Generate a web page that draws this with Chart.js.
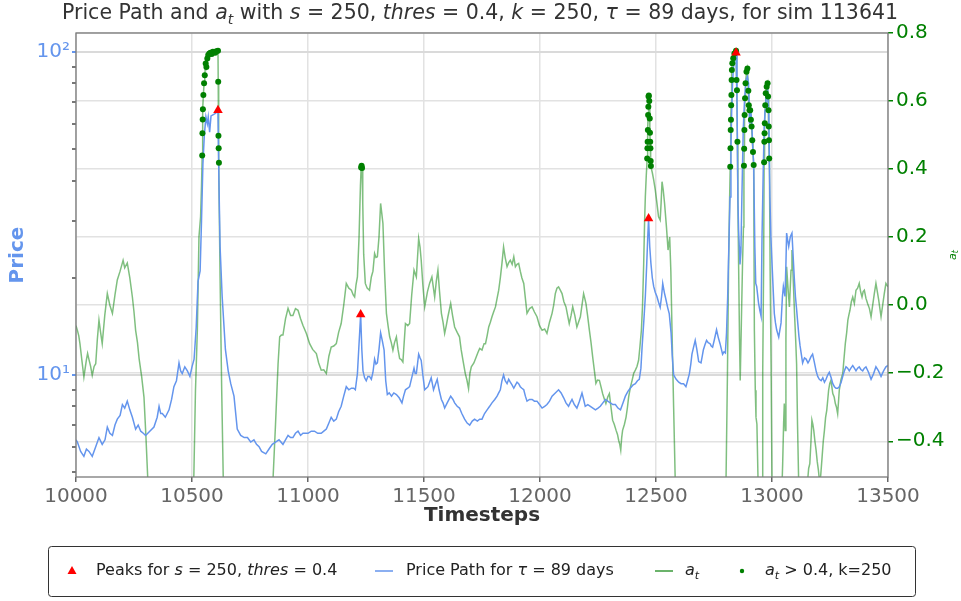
<!DOCTYPE html>
<html>
<head>
<meta charset="utf-8">
<script src="https://cdn.jsdelivr.net/npm/chart.js@4.4.1/dist/chart.umd.min.js"></script>
<style>
  html, body { margin: 0; padding: 0; background: #fff; }
  #wrap { width: 961px; height: 601px; }
</style>
</head>
<body>
<div id="wrap"><canvas id="grafico" width="961" height="601"></canvas></div>
<script>
const ctx = document.querySelector("#grafico");

// price path (timestep, price)
const priceT = [
  10000, 10006, 10020, 10034, 10045, 10056, 10070, 10085, 10099, 10113, 10125, 10135, 10146, 10157, 10168, 10178,
  10190, 10200, 10210, 10221, 10232, 10243, 10257, 10268, 10279, 10290, 10300, 10318, 10336, 10350, 10358, 10365,
  10372, 10385, 10401, 10412, 10422, 10433, 10444, 10451, 10458, 10469, 10480, 10491, 10500, 10509, 10518, 10526,
  10535, 10541, 10547, 10553, 10560, 10566, 10570, 10576, 10582, 10592, 10602, 10612, 10616, 10621, 10630, 10644,
  10656, 10667, 10681, 10695, 10710, 10725, 10739, 10753, 10767, 10778, 10789, 10800, 10818, 10832, 10846, 10860,
  10875, 10892, 10903, 10914, 10925, 10935, 10946, 10957, 10968, 10978, 10990, 11000, 11014, 11028, 11042, 11057,
  11068, 11079, 11090, 11100, 11111, 11122, 11132, 11143, 11154, 11165, 11176, 11187, 11197, 11204, 11213, 11220,
  11227, 11232, 11237, 11244, 11251, 11258, 11265, 11273, 11280, 11287, 11293, 11299, 11306, 11313, 11320, 11328,
  11335, 11342, 11350, 11360, 11370, 11381, 11393, 11405, 11412, 11420, 11430, 11438, 11447, 11457, 11462, 11467,
  11477, 11483, 11488, 11495, 11503, 11510, 11517, 11524, 11531, 11536, 11541, 11550, 11557, 11565, 11575, 11582,
  11589, 11600, 11615, 11625, 11632, 11643, 11653, 11663, 11675, 11686, 11697, 11708, 11718, 11730, 11740, 11750,
  11761, 11772, 11783, 11793, 11805, 11815, 11822, 11829, 11836, 11843, 11850, 11858, 11865, 11872, 11880, 11887,
  11894, 11901, 11908, 11915, 11922, 11930, 11937, 11944, 11955, 11966, 11976, 11987, 11998, 12009, 12020, 12030,
  12041, 12052, 12066, 12080, 12091, 12102, 12112, 12123, 12130, 12138, 12148, 12159, 12170, 12181, 12188, 12195,
  12206, 12217, 12228, 12239, 12250, 12260, 12271, 12282, 12292, 12303, 12314, 12325, 12336, 12347, 12358, 12368,
  12379, 12389, 12400, 12411, 12420, 12428, 12435, 12440, 12447, 12454, 12460, 12464, 12468, 12473, 12478, 12484,
  12490, 12497, 12504, 12511, 12518, 12524, 12529, 12536, 12543, 12550, 12557, 12565, 12570, 12576, 12587, 12598,
  12608, 12619, 12629, 12636, 12644, 12650, 12655, 12662, 12669, 12676, 12684, 12694, 12699, 12704, 12711, 12718,
  12725, 12733, 12738, 12744, 12752, 12761, 12768, 12776, 12782, 12787, 12793, 12799, 12804, 12809, 12814, 12819,
  12823, 12826, 12830, 12833, 12838, 12845, 12849, 12853, 12856, 12859, 12862, 12866, 12870, 12876, 12882, 12888,
  12894, 12899, 12903, 12906, 12912, 12917, 12921, 12926, 12930, 12934, 12942, 12948, 12953, 12957, 12962, 12966,
  12970, 12974, 12981, 12986, 12991, 12995, 13000, 13005, 13010, 13015, 13020, 13029, 13039, 13045, 13049, 13056,
  13060, 13063, 13068, 13072, 13079, 13086, 13092, 13096, 13101, 13106, 13111, 13116, 13121, 13132, 13140, 13147,
  13155, 13161, 13168, 13175, 13182, 13190, 13197, 13204, 13212, 13219, 13226, 13233, 13240, 13247, 13255, 13262,
  13269, 13276, 13283, 13290, 13298, 13305, 13312, 13319, 13326, 13333, 13340, 13348, 13355, 13362, 13369, 13376,
  13383, 13391, 13398, 13405, 13416, 13427, 13438, 13448, 13459, 13470, 13481, 13491, 13500
];
const priceV = [
  6.3, 6.2, 5.8, 5.6, 5.9, 5.8, 5.6, 6.0, 6.4, 6.1, 6.3, 6.9, 6.6, 6.5, 7.0, 7.3,
  7.5, 8.1, 7.9, 8.3, 7.8, 7.4, 6.8, 7.0, 6.7, 6.6, 6.5, 6.7, 6.9, 7.4, 8.0, 7.6,
  7.6, 7.4, 7.8, 8.4, 9.2, 9.6, 10.9, 10.3, 10.1, 10.6, 10.3, 9.9, 10.6, 11.2, 14, 19.5,
  21, 30, 45, 55, 63, 60, 63, 56.5, 63.4, 64, 64.6, 66, 40, 25, 17.5, 12,
  10.3, 9.4, 8.6, 6.8, 6.5, 6.4, 6.4, 6.2, 6.3, 6.1, 6.0, 5.8, 5.7, 5.9, 6.1, 6.2,
  6.3, 6.1, 6.3, 6.5, 6.4, 6.4, 6.6, 6.7, 6.5, 6.6, 6.6, 6.6, 6.7, 6.7, 6.6, 6.6,
  6.7, 6.8, 7.1, 7.4, 7.2, 7.3, 7.7, 8.0, 8.6, 9.2, 9.0, 9.1, 9.1, 9.0, 10.1, 12.5,
  15.4, 12.0, 10.3, 9.8, 9.6, 9.9, 9.9, 9.7, 10.2, 11.2, 10.8, 10.9, 12.0, 13.5, 12.8, 11.95,
  9.6, 8.7, 8.8, 8.6, 8.8, 8.7, 8.5, 8.2, 8.6, 9.0, 9.1, 9.2, 9.8, 10.5, 10.1, 10.1,
  11.6, 11.3, 11.1, 10.0, 9.0, 9.1, 9.2, 9.5, 9.8, 9.4, 9.0, 9.4, 9.7, 9.0, 8.4, 8.2,
  7.9, 8.2, 8.6, 8.4, 8.2, 8.0, 7.9, 7.6, 7.3, 7.1, 7.0, 7.2, 7.3, 7.2, 7.3, 7.3,
  7.6, 7.8, 8.0, 8.2, 8.4, 8.6, 8.8, 9.0, 9.6, 10.0, 9.6, 9.4, 9.7, 9.5, 9.3, 9.1,
  9.3, 9.5, 9.4, 9.2, 9.1, 9.0, 8.6, 8.3, 8.4, 8.4, 8.3, 8.3, 8.1, 7.9, 8.0, 8.1,
  8.3, 8.6, 8.8, 9.0, 8.8, 8.5, 8.2, 8.0, 8.2, 8.4, 8.1, 7.9, 8.3, 8.8, 8.4, 8.0,
  8.1, 8.0, 7.9, 7.8, 7.9, 8.0, 8.2, 8.4, 8.3, 8.2, 8.1, 8.1, 7.9, 7.8, 8.2, 8.6,
  8.9, 9.1, 9.3, 9.4, 9.6, 9.7, 10.5, 12.2, 14.5, 17.5, 22, 26.2, 30.5, 25, 22.2, 20,
  18.8, 18.0, 17.5, 16.8, 16.2, 17.5, 19.2, 18.0, 17.1, 16.2, 15.5, 13.5, 11.5, 10.0, 9.7, 9.5,
  9.4, 9.4, 9.2, 9.6, 10.1, 10.8, 11.6, 12.2, 12.8, 12.0, 11.0, 10.9, 11.4, 11.95, 12.4, 12.8,
  12.6, 12.5, 12.3, 12.2, 12.9, 13.8, 13.1, 12.5, 12.0, 11.6, 11.8, 11.7, 13.5, 17.5, 25, 35.6,
  50, 64.6, 80, 88, 95, 99.5, 72.7, 35, 28.1, 25, 22, 24, 35, 57.3, 72, 82,
  84, 80, 60, 68, 62, 50.9, 45, 25, 19.2, 18.8, 16.7, 15.8, 15.2, 26.8, 42, 57.3,
  66, 72.7, 76.3, 64.6, 35.6, 27, 22.2, 18.5, 15.5, 14.5, 13.8, 13.1, 14.5, 17.5, 18.8, 17.5,
  22, 27.5, 26, 25.0, 26.8, 27.5, 22.7, 20, 17.5, 16, 14.5, 13.2, 12.3, 10.9, 11.3, 11.2,
  10.9, 11.1, 11.4, 11.6, 11.0, 10.3, 9.9, 9.7, 9.6, 9.8, 9.5, 9.7, 10.0, 10.2, 9.8, 9.4,
  9.2, 9.1, 9.1, 9.2, 9.5, 9.9, 10.3, 10.6, 10.5, 10.3, 10.5, 10.7, 10.5, 10.3, 10.5, 10.6,
  10.4, 10.3, 10.5, 10.6, 10.2, 9.7, 10.1, 10.6, 10.3, 9.9, 10.3, 10.6, 10.7
];

// a_t (timestep, value), values under the axis floor run off the bottom
const atT = [
  10000, 10006, 10012, 10017, 10025, 10034, 10045, 10050, 10056, 10063, 10070, 10078, 10085, 10092, 10099, 10106,
  10113, 10124, 10135, 10146, 10157, 10168, 10178, 10190, 10203, 10210, 10221, 10232, 10243, 10250, 10257, 10265,
  10272, 10283, 10293, 10301, 10310, 10400, 10500, 10508, 10515, 10523, 10530, 10537, 10541, 10544, 10545, 10546,
  10547, 10549, 10552, 10555, 10559, 10562, 10566, 10570, 10575, 10580, 10585, 10590, 10595, 10600, 10605, 10612,
  10613, 10614, 10615, 10616, 10621, 10628, 10635, 10700, 10800, 10845, 10850, 10860, 10871, 10878, 10885, 10892,
  10903, 10914, 10925, 10935, 10946, 10957, 10968, 10978, 10993, 11007, 11020, 11036, 11046, 11057, 11068, 11079,
  11090, 11100, 11111, 11122, 11132, 11143, 11154, 11165, 11176, 11187, 11195, 11201, 11207, 11213, 11220, 11226,
  11229, 11231, 11233, 11236, 11240, 11247, 11255, 11265, 11273, 11280, 11287, 11293, 11299, 11306, 11313, 11318,
  11323, 11330, 11338, 11345, 11352, 11359, 11366, 11373, 11381, 11388, 11395, 11402, 11409, 11420, 11430, 11438,
  11447, 11457, 11467, 11477, 11483, 11488, 11495, 11503, 11515, 11524, 11534, 11546, 11553, 11560, 11567, 11575,
  11582, 11589, 11596, 11603, 11615, 11623, 11632, 11643, 11653, 11660, 11668, 11678, 11685, 11692, 11698, 11704,
  11715, 11725, 11732, 11740, 11750, 11759, 11765, 11772, 11779, 11786, 11793, 11800, 11808, 11815, 11822, 11829,
  11836, 11843, 11850, 11858, 11865, 11872, 11880, 11887, 11894, 11901, 11908, 11915, 11922, 11930, 11937, 11944,
  11955, 11966, 11976, 11987, 11998, 12009, 12020, 12030, 12041, 12052, 12059, 12066, 12073, 12080, 12087, 12095,
  12103, 12112, 12119, 12126, 12134, 12141, 12150, 12159, 12166, 12174, 12181, 12188, 12193, 12198, 12205, 12213,
  12220, 12227, 12234, 12241, 12248, 12256, 12263, 12270, 12277, 12284, 12292, 12299, 12306, 12313, 12320, 12328,
  12334, 12339, 12344, 12348, 12352, 12356, 12364, 12371, 12377, 12382, 12390, 12397, 12404, 12411, 12418, 12425,
  12431, 12437, 12442, 12447, 12451, 12454, 12458, 12462, 12463, 12464, 12465, 12466, 12467, 12468, 12469, 12471,
  12473, 12474, 12475, 12476, 12477, 12478, 12484, 12490, 12497, 12504, 12511, 12518, 12522, 12526, 12531, 12537,
  12545, 12552, 12559, 12564, 12569, 12576, 12583, 12650, 12760, 12800, 12802, 12808, 12813, 12817, 12820, 12821,
  12822, 12823, 12824, 12825, 12826, 12827, 12829, 12833, 12838, 12845, 12847, 12849, 12851, 12853, 12856, 12860,
  12863, 12868, 12873, 12877, 12879, 12880, 12881, 12882, 12884, 12886, 12890, 12894, 12898, 12900, 12903, 12906,
  12909, 12912, 12915, 12918, 12921, 12924, 12928, 12931, 12935, 12940, 12950, 12957, 12960, 12964, 12966, 12967,
  12968, 12969, 12971, 12973, 12977, 12981, 12983, 12985, 12986, 12987, 12988, 12989, 12992, 12996, 13000, 13020,
  13040, 13046, 13050, 13053, 13057, 13060, 13063, 13069, 13075, 13082, 13086, 13090, 13097, 13102, 13106, 13110,
  13115, 13135, 13153, 13158, 13163, 13168, 13172, 13176, 13180, 13185, 13190, 13195, 13200, 13205, 13210, 13216,
  13221, 13226, 13231, 13236, 13240, 13244, 13249, 13254, 13258, 13262, 13268, 13273, 13278, 13283, 13287, 13290,
  13297, 13305, 13310, 13316, 13322, 13327, 13331, 13336, 13342, 13348, 13355, 13362, 13369, 13376, 13382, 13388,
  13393, 13398, 13405, 13412, 13420, 13427, 13434, 13441, 13448, 13454, 13460, 13465, 13470, 13477, 13484, 13491,
  13500
];
const atV = [
  -0.06, -0.074, -0.09, -0.113, -0.16, -0.211, -0.16, -0.142, -0.16, -0.18, -0.206, -0.18, -0.172, -0.1, -0.044, -0.08,
  -0.113, -0.03, 0.034, 0.0, -0.024, 0.03, 0.074, 0.1, 0.132, 0.11, 0.124, 0.08, 0.024, -0.02, -0.074, -0.11,
  -0.157, -0.21, -0.27, -0.38, -0.52, -1.6, -0.56, -0.5, -0.25, -0.074, 0.2, 0.26, 0.35, 0.44, 0.505, 0.546,
  0.576, 0.618, 0.652, 0.676, 0.71, 0.7, 0.725, 0.735, 0.74, 0.742, 0.738, 0.745, 0.744, 0.742, 0.746, 0.748,
  0.657, 0.498, 0.461, 0.419, 0.083, -0.25, -0.52, -1.5, -1.4, -0.6, -0.5, -0.35, -0.172, -0.093, -0.088, -0.088,
  -0.04, -0.009, -0.03, -0.03, -0.01, -0.015, -0.04, -0.059, -0.083, -0.113, -0.13, -0.142, -0.17, -0.191, -0.19, -0.201,
  -0.15, -0.123, -0.12, -0.113, -0.08, -0.054, 0.0, 0.064, 0.05, 0.044, 0.03, 0.024, 0.06, 0.083, 0.2, 0.35,
  0.405, 0.41, 0.403, 0.3, 0.15, 0.064, 0.05, 0.044, 0.083, 0.1, 0.152, 0.14, 0.142, 0.2, 0.299, 0.27,
  0.24, 0.1, -0.024, -0.06, -0.093, -0.11, -0.132, -0.11, -0.093, -0.13, -0.157, -0.16, -0.167, -0.054, -0.06, -0.054,
  0.03, 0.103, 0.083, 0.196, 0.17, 0.132, 0.06, -0.005, 0.04, 0.064, 0.083, 0.024, 0.07, 0.103, 0.04, -0.024,
  -0.05, -0.083, -0.06, -0.034, 0.005, -0.03, -0.064, -0.08, -0.093, -0.13, -0.162, -0.201, -0.22, -0.245, -0.2, -0.181,
  -0.17, -0.152, -0.14, -0.127, -0.132, -0.113, -0.113, -0.09, -0.064, -0.05, -0.034, -0.02, -0.005, 0.02, 0.044, 0.08,
  0.123, 0.171, 0.14, 0.113, 0.125, 0.132, 0.12, 0.142, 0.113, 0.12, 0.123, 0.1, 0.08, 0.064, 0.02, -0.024,
  -0.01, -0.005, -0.02, -0.034, -0.06, -0.074, -0.07, -0.083, -0.05, -0.024, 0.0, 0.034, 0.05, 0.054, 0.045, 0.034,
  0.01, -0.005, -0.03, -0.054, -0.03, -0.005, -0.03, -0.064, -0.05, -0.034, 0.0, 0.034, 0.02, 0.005, -0.03, -0.074,
  -0.11, -0.152, -0.19, -0.23, -0.22, -0.221, -0.24, -0.26, -0.275, -0.289, -0.27, -0.26, -0.3, -0.338, -0.35, -0.368,
  -0.38, -0.397, -0.41, -0.426, -0.39, -0.368, -0.35, -0.329, -0.3, -0.27, -0.24, -0.221, -0.2, -0.191, -0.18, -0.162,
  -0.12, -0.074, 0.0, 0.123, 0.25, 0.318, 0.38, 0.431, 0.461, 0.48, 0.515, 0.559, 0.583, 0.613, 0.616, 0.6,
  0.549, 0.507, 0.48, 0.461, 0.424, 0.409, 0.39, 0.368, 0.338, 0.3, 0.26, 0.25, 0.3, 0.363, 0.34, 0.299,
  0.23, 0.162, 0.2, 0.1, -0.074, -0.3, -0.52, -1.6, -1.5, -0.6, -0.505, -0.2, 0.123, 0.3, 0.407, 0.461,
  0.515, 0.545, 0.588, 0.618, 0.662, 0.691, 0.711, 0.726, 0.74, 0.748, 0.662, 0.632, 0.48, 0.3, 0.123, -0.1,
  -0.221, -0.05, 0.123, 0.23, 0.41, 0.46, 0.515, 0.559, 0.608, 0.652, 0.686, 0.696, 0.63, 0.588, 0.573, 0.573,
  0.545, 0.525, 0.485, 0.45, 0.412, -0.074, -0.25, -0.329, -0.35, -0.52, -0.9, -0.52, -0.2, 0.123, 0.42, 0.48,
  0.505, 0.535, 0.588, 0.623, 0.642, 0.652, 0.613, 0.573, 0.525, 0.485, 0.431, 0.397, 0.1, -0.172, -0.52, -1.0,
  -0.6, -0.466, -0.35, -0.289, -0.368, -0.1, 0.113, 0.05, -0.005, 0.103, 0.162, 0.103, -0.024, -0.1, -0.172, -0.35,
  -0.52, -0.9, -0.52, -0.48, -0.466, -0.4, -0.338, -0.35, -0.368, -0.4, -0.426, -0.46, -0.485, -0.52, -0.5, -0.446,
  -0.4, -0.368, -0.33, -0.309, -0.28, -0.25, -0.23, -0.221, -0.24, -0.26, -0.27, -0.289, -0.3, -0.319, -0.28, -0.25,
  -0.22, -0.201, -0.16, -0.113, -0.08, -0.044, -0.03, -0.015, 0.01, 0.024, 0.005, 0.044, 0.05, 0.064, 0.04, 0.024,
  0.04, 0.044, 0.02, 0.005, -0.01, -0.034, 0.0, 0.034, 0.064, 0.04, 0.015, -0.01, -0.034, 0.0, 0.034, 0.064,
  0.054
];

// detected peaks on the price path
const peakT = [10612, 11227, 12468, 12845];
const peakP = [66, 15.4, 30.5, 99.5];

const umbral = 0.4;
const xTicks = [10000, 10500, 11000, 11500, 12000, 12500, 13000, 13500];
const priceTicks = [5, 6, 7, 8, 9, 10, 20, 30, 40, 50, 60, 70, 80, 90, 100];
const atTicks = [-0.4, -0.2, 0, 0.2, 0.4, 0.6, 0.8];

const FONT = "'DejaVu Sans', sans-serif";
const AZUL = '#6495ED';
const VERDE = '#008000';
const GRID = '#e2e2e2';

const puntos = (xs, ys) => xs.map((x, i) => ({ x: x, y: ys[i] }));
const sobreUmbral = atT
  .map((t, i) => ({ x: t, y: atV[i] }))
  .filter(p => p.y > umbral);

// text made of plain / italic / subscript pieces
const R = (t, it, sub) => ({ t: t, it: !!it, sub: !!sub });
function fuente(r, size, bold) {
  const s = r.sub ? Math.round(size * 0.7) : size;
  return (r.it ? 'italic ' : '') + (bold ? 'bold ' : '') + s + 'px ' + FONT;
}
function anchoTexto(c, runs, size) {
  let w = 0;
  runs.forEach(r => { c.font = fuente(r, size); w += c.measureText(r.t).width; });
  return w;
}
function dibujarTexto(c, runs, x, y, size, align) {
  let cx = align === 'center' ? x - anchoTexto(c, runs, size) / 2 : x;
  c.textAlign = 'left';
  c.textBaseline = 'middle';
  runs.forEach(r => {
    c.font = fuente(r, size);
    c.fillText(r.t, cx, y + (r.sub ? size * 0.3 : 0));
    cx += c.measureText(r.t).width;
  });
}

const titulo = [R('Price Path and '), R('a', true), R('t', true, true), R(' with '), R('s', true),
  R(' = 250, '), R('thres', true), R(' = 0.4, '), R('k', true), R(' = 250, '), R('τ', true),
  R(' = 89 days, for sim 113641')];

const leyenda = [
  { tipo: 'tri', x: 72, tx: 96, runs: [R('Peaks for '), R('s', true), R(' = 250, '), R('thres', true), R(' = 0.4')] },
  { tipo: 'linea', color: AZUL, x: 375, tx: 406, runs: [R('Price Path for '), R('τ', true), R(' = 89 days')] },
  { tipo: 'linea', color: '#3a9a3a', x: 655, tx: 685, runs: [R('a', true), R('t', true, true)] },
  { tipo: 'punto', x: 742, tx: 765, runs: [R('a', true), R('t', true, true), R(' > 0.4, k=250')] }
];

const textos = {
  id: 'textos',
  afterDraw(chart) {
    const c = chart.ctx;
    const a = chart.chartArea;
    c.save();

    // frame around the plot
    c.strokeStyle = '#7a7a7a';
    c.lineWidth = 1.3;
    c.strokeRect(a.left, a.top, a.right - a.left, a.bottom - a.top);

    c.fillStyle = '#333';
    dibujarTexto(c, titulo, 480, 14, 20.5, 'center');

    c.font = 'bold 20px ' + FONT;
    c.textAlign = 'center';
    c.textBaseline = 'middle';
    c.fillText('Timesteps', (a.left + a.right) / 2, 516);

    c.save();
    c.translate(18, 255);
    c.rotate(-Math.PI / 2);
    c.fillStyle = AZUL;
    c.font = 'bold 20px ' + FONT;
    c.fillText('Price', 0, 0);
    c.restore();

    c.save();
    c.translate(953, 255);
    c.rotate(-Math.PI / 2);
    c.fillStyle = VERDE;
    dibujarTexto(c, [R('a', true), R('t', true, true)], 0, 0, 11, 'center');
    c.restore();

    // legend box
    c.strokeStyle = '#333';
    c.lineWidth = 1;
    c.beginPath();
    c.roundRect(48.5, 546.5, 867, 50, 3);
    c.stroke();

    const ly = 571;
    leyenda.forEach(it => {
      if (it.tipo === 'tri') {
        c.fillStyle = 'red';
        c.beginPath();
        c.moveTo(it.x, ly - 5);
        c.lineTo(it.x + 4.5, ly + 3);
        c.lineTo(it.x - 4.5, ly + 3);
        c.closePath();
        c.fill();
      } else if (it.tipo === 'linea') {
        c.strokeStyle = it.color;
        c.lineWidth = 1.5;
        c.beginPath();
        c.moveTo(it.x, ly);
        c.lineTo(it.x + 18, ly);
        c.stroke();
      } else {
        c.fillStyle = VERDE;
        c.beginPath();
        c.arc(it.x, ly, 2.2, 0, Math.PI * 2);
        c.fill();
      }
      c.fillStyle = '#222';
      dibujarTexto(c, it.runs, it.tx, ly, 16, 'left');
    });

    c.restore();
  }
};

const fijarTicks = lista => scale => {
  scale.ticks = lista.map(v => ({ value: v, major: true }));
};

const myChart = new Chart(ctx, {
  type: 'line',
  data: {
    datasets: [
      {
        label: 'a_t',
        data: puntos(atT, atV),
        yAxisID: 'y1',
        borderColor: 'rgba(0, 128, 0, 0.5)',
        borderWidth: 1.5,
        pointRadius: 0,
        tension: 0,
        clip: 0,
        order: 4
      },
      {
        label: 'Price Path',
        data: puntos(priceT, priceV),
        yAxisID: 'y',
        borderColor: AZUL,
        borderWidth: 1.5,
        pointRadius: 0,
        tension: 0,
        clip: 0,
        order: 3
      },
      {
        label: 'a_t > 0.4',
        data: sobreUmbral,
        yAxisID: 'y1',
        showLine: false,
        pointRadius: 3,
        pointBorderWidth: 0,
        pointBackgroundColor: VERDE,
        clip: 0,
        order: 2
      },
      {
        label: 'Peaks',
        data: puntos(peakT, peakP),
        yAxisID: 'y',
        showLine: false,
        pointStyle: 'triangle',
        pointRadius: 5.5,
        pointBorderWidth: 0,
        pointBackgroundColor: 'red',
        order: 1
      }
    ]
  },
  options: {
    responsive: false,
    animation: false,
    events: [],
    layout: { padding: { top: 33, left: 0, right: 0, bottom: 0 } },
    plugins: {
      legend: { display: false },
      tooltip: { enabled: false },
      title: { display: false }
    },
    scales: {
      x: {
        type: 'linear',
        min: 10000,
        max: 13500,
        afterBuildTicks: fijarTicks(xTicks),
        afterFit: s => { s.height = 124; },
        border: { display: false },
        grid: { color: GRID, lineWidth: 1.5, tickColor: '#666', tickLength: 5 },
        ticks: {
          autoSkip: false,
          maxRotation: 0,
          padding: 3,
          color: '#666',
          font: { family: FONT, size: 20 },
          callback: v => String(v)
        }
      },
      y: {
        type: 'logarithmic',
        position: 'left',
        min: 4.833,
        max: 114.5,
        afterBuildTicks: scale => {
          scale.ticks = priceTicks.map(v => ({ value: v, major: v === 10 || v === 100 }));
        },
        afterFit: s => { s.width = 76; },
        border: { display: false },
        grid: {
          color: c => (c.tick && (c.tick.value === 10 || c.tick.value === 100)) ? '#dadada' : 'rgba(0,0,0,0)',
          lineWidth: 2,
          tickColor: c => (c.tick && (c.tick.value === 10 || c.tick.value === 100)) ? AZUL : '#777',
          tickLength: 4
        },
        ticks: {
          autoSkip: false,
          padding: 2,
          color: AZUL,
          font: { family: FONT, size: 20 },
          callback: v => v === 100 ? '10²' : (v === 10 ? '10¹' : '')
        }
      },
      y1: {
        type: 'linear',
        position: 'right',
        min: -0.505,
        max: 0.8,
        afterBuildTicks: fijarTicks(atTicks),
        afterFit: s => { s.width = 73; },
        border: { display: false },
        grid: { color: GRID, lineWidth: 1.5, tickColor: VERDE, tickLength: 5 },
        ticks: {
          autoSkip: false,
          padding: 3,
          color: VERDE,
          font: { family: FONT, size: 20 },
          callback: v => (v < 0 ? '\u2212' : '') + Math.abs(v).toFixed(1)
        }
      }
    }
  },
  plugins: [textos]
});
</script>
</body>
</html>
